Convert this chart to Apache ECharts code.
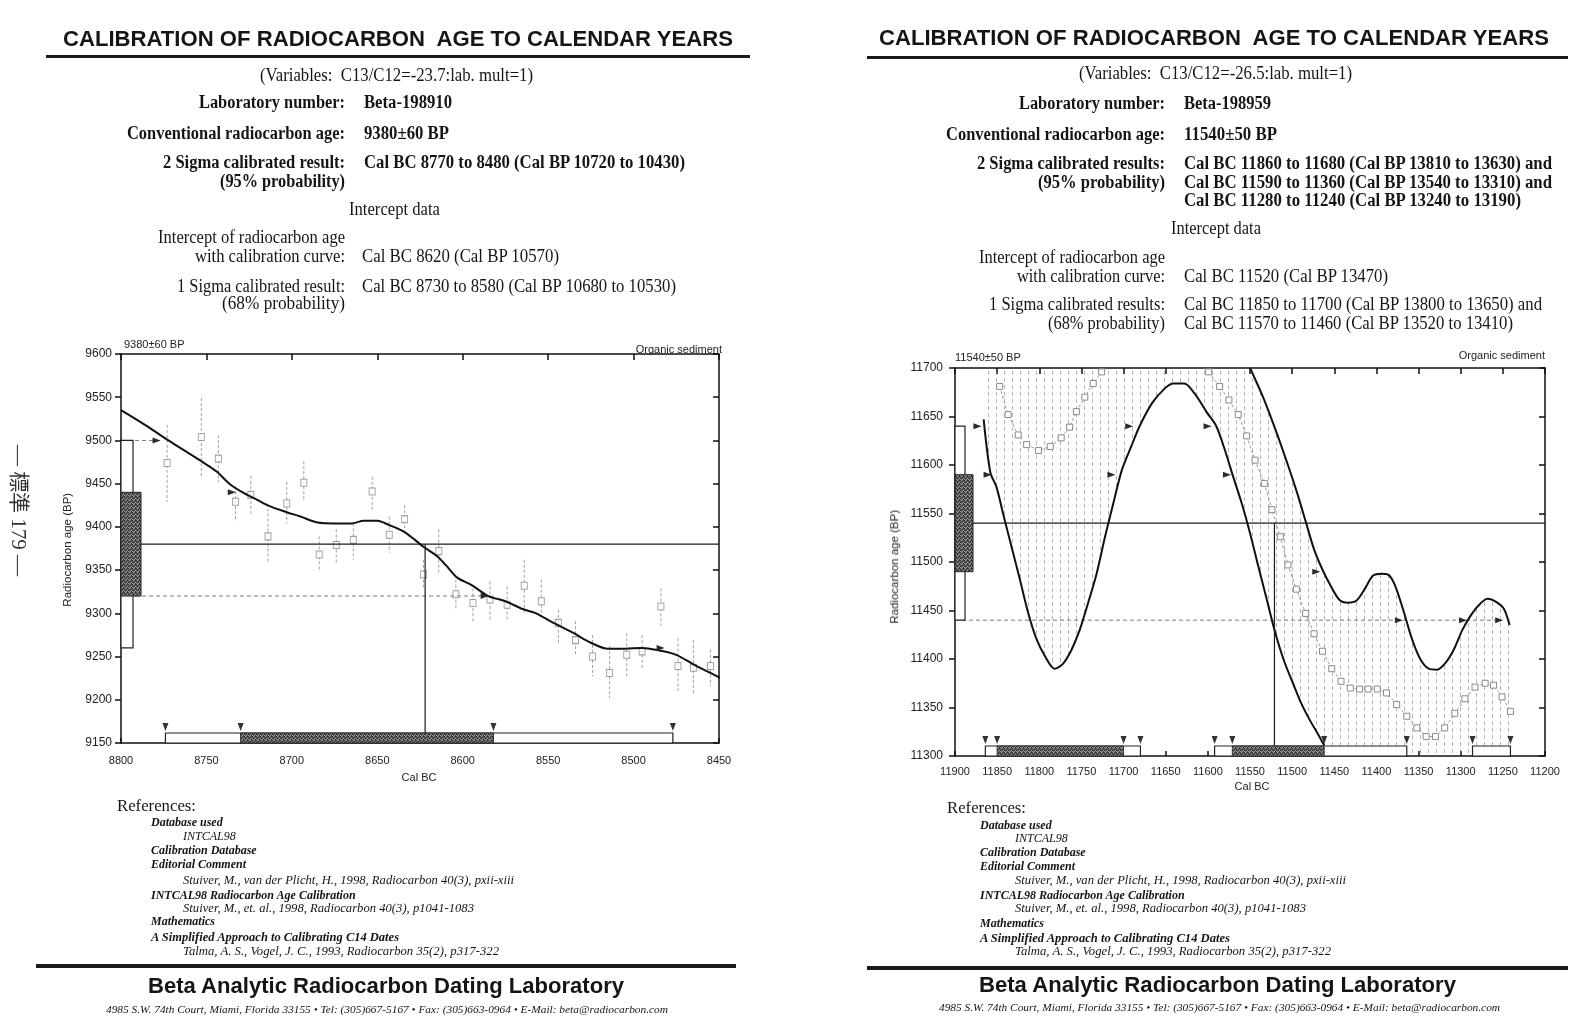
<!DOCTYPE html>
<html><head><meta charset="utf-8">
<script src="https://cdn.jsdelivr.net/npm/echarts@6.0.0/dist/echarts.min.js"></script>
<style>
html,body{margin:0;padding:0;background:#fff;}
body{width:1596px;height:1036px;position:relative;overflow:hidden;}
#chart{position:absolute;left:0;top:0;width:1596px;height:1036px;}
.tx{position:absolute;white-space:pre;color:#151515;transform-origin:0 50%;}
.title{font:bold 22px/1 'Liberation Sans',Arial,sans-serif;}
.bold{font:bold 18px/1 'Liberation Serif','Times New Roman',serif;}
.reg{font:18px/1 'Liberation Serif','Times New Roman',serif;}
.refh{font:17px/1 'Liberation Serif',serif;}
.refb{font:italic bold 12px/1 'Liberation Serif',serif;}
.refi{font:italic 12px/1 'Liberation Serif',serif;}
.foot{font:bold 22px/1 'Liberation Sans',Arial,sans-serif;}
.addr{font:italic 10px/1 'Liberation Serif',serif;}
.ax{font:11px/1 'Liberation Sans',Arial,sans-serif;color:#222;}
.axn{font:11.5px/1 'Liberation Sans',Arial,sans-serif;color:#222;}
.side{font:21px/1 'Liberation Serif','Noto Sans CJK JP',serif;color:#333;}
.rule{position:absolute;background:#1a1a1a;}
</style></head><body>
<div id="chart"></div>
<script>
// ================= DATA =================
// Left chart: Beta-198910
const leftAge = 9380, leftErr = 60;
const leftCurve = [[8800,9535],[8786,9518],[8773,9501],[8753,9476],[8744,9464],[8736,9449],[8728,9439],[8720,9431],[8713,9424],[8703,9417],[8695,9412],[8685,9405],[8675,9404],[8665,9404],[8658,9407],[8650,9407],[8643,9402],[8635,9395],[8628,9385],[8623,9377],[8615,9366],[8610,9356],[8603,9341],[8595,9333],[8585,9320],[8575,9314],[8565,9305],[8557,9300],[8548,9290],[8535,9277],[8525,9266],[8515,9259],[8505,9259],[8495,9260],[8485,9257],[8475,9252],[8465,9241],[8455,9231],[8449,9225]];
// [cal BC, BP, low, high]
const leftPoints = [[8773,9474,9429,9518],[8753,9504,9458,9549],[8743,9479,9452,9506],[8733,9429,9406,9447],[8724,9437,9414,9459],[8714,9389,9358,9427],[8703,9427,9404,9452],[8693,9451,9431,9476],[8684,9368,9348,9389],[8674,9379,9358,9397],[8664,9385,9362,9404],[8653,9441,9420,9458],[8643,9391,9370,9412],[8634,9409,9395,9425],[8623,9345,9330,9362],[8614,9372,9347,9397],[8604,9322,9304,9339],[8594,9312,9289,9329],[8584,9316,9293,9337],[8574,9310,9293,9331],[8564,9332,9300,9362],[8554,9314,9293,9339],[8544,9289,9264,9304],[8534,9269,9252,9291],[8524,9250,9227,9275],[8514,9231,9202,9262],[8504,9252,9227,9277],[8495,9256,9235,9275],[8484,9308,9285,9329],[8474,9239,9210,9271],[8465,9237,9206,9269],[8455,9239,9216,9258]];
const leftSigma2 = [[8774,8477]];
const leftSigma1 = [[8730,8582]];
const leftIntercept = 8622;
const leftArrows = [[8778,9500],[8734,9440],[8586,9320],[8483,9260]];
const leftDashed = [[9500,8778],[9320,8586]]; // [BP level, end cal BC]

// Right chart: Beta-198959
const rightAge = 11540, rightErr = 50;
const rightCurveLower = [[11866,11647],[11858,11592],[11851,11578],[11843,11550],[11833,11516],[11823,11482],[11813,11447],[11803,11420],[11792,11401],[11782,11390],[11772,11395],[11762,11409],[11752,11430],[11742,11458],[11732,11488],[11722,11526],[11712,11561],[11702,11595],[11691,11619],[11681,11640],[11666,11664],[11651,11679],[11641,11684],[11628,11684],[11616,11674],[11601,11654],[11590,11640],[11580,11616],[11570,11588],[11560,11561],[11550,11530],[11540,11495],[11530,11461],[11520,11427],[11510,11399],[11499,11375],[11489,11354],[11479,11337],[11469,11322],[11462,11311]];
const rightCurveUpper = [[11550,11700],[11535,11671],[11520,11637],[11505,11600],[11494,11571],[11484,11542],[11474,11513],[11464,11492],[11454,11475],[11444,11461],[11434,11458],[11424,11460],[11414,11472],[11404,11486],[11394,11488],[11386,11487],[11378,11476],[11368,11450],[11358,11421],[11348,11400],[11338,11390],[11328,11389],[11318,11396],[11308,11410],[11298,11430],[11288,11445],[11278,11456],[11268,11462],[11258,11459],[11249,11452],[11242,11435]];
const rightDataC = [[11847,11681],[11837,11652],[11825,11631],[11815,11621],[11801,11615],[11787,11619],[11774,11628],[11764,11639],[11756,11655],[11746,11670],[11736,11684],[11726,11696]];
const rightDataD = [[11599,11696],[11586,11681],[11575,11667],[11564,11652],[11554,11630],[11544,11605],[11533,11581],[11524,11554],[11514,11526],[11505,11497],[11495,11472],[11484,11447],[11474,11426],[11464,11408],[11453,11390],[11442,11377],[11431,11370],[11420,11369],[11410,11369],[11399,11369],[11388,11365],[11376,11353],[11364,11341],[11352,11329],[11341,11320],[11330,11320],[11319,11329],[11307,11344],[11295,11359],[11283,11371],[11271,11375],[11261,11373],[11251,11361],[11241,11346]];
const rightSigma2 = [[11864,11680],[11592,11364],[11286,11241]];
const rightSigma1 = [[11850,11700],[11571,11462]];
const rightIntercept = 11521;
const rightArrows = [[11871,11640],[11691,11640],[11598,11640],[11859,11590],[11712,11590],[11575,11590],[11469,11490],[11371,11440],[11295,11440],[11252,11440]];
const rightDashed = [[11440,11252]];

// axis ranges
const LX = [8450, 8800], LY = [9150, 9600];
const RX = [11200, 11900], RY = [11300, 11700];

// ================= PATTERNS =================
function hatchPattern() {
  const c = document.createElement('canvas'); c.width = 8; c.height = 7;
  const g = c.getContext('2d');
  g.fillStyle = 'rgba(120,120,120,0.55)';
  g.fillRect(4, 0, 1, 4);
  return c;
}
function stipplePattern() {
  const c = document.createElement('canvas'); c.width = 4; c.height = 4;
  const g = c.getContext('2d');
  g.fillStyle = '#626262'; g.fillRect(0, 0, 4, 4);
  g.fillStyle = '#303030';
  [[0,0],[2,1],[1,2],[3,3],[3,0],[0,2]].forEach(p => g.fillRect(p[0], p[1], 1, 1));
  g.fillStyle = '#9c9c9c';
  [[1,0],[3,2],[0,3],[2,3]].forEach(p => g.fillRect(p[0], p[1], 1, 1));
  return c;
}
const HATCH = {image: hatchPattern(), repeat: 'repeat'};
const STIP = {image: stipplePattern(), repeat: 'repeat'};

// ================= CHART =================
const chart = echarts.init(document.getElementById('chart'), null, {renderer: 'canvas'});
const AX = '#111';
function xAxis(grid, r, pos, show, margin) {
  return {type: 'value', gridIndex: grid, min: r[0], max: r[1], interval: 50, inverse: true, position: pos,
    axisLine: {show: true, onZero: false, lineStyle: {color: AX, width: 1.5}},
    axisTick: {show: true, inside: true, length: pos === 'top' ? 6 : 5, lineStyle: {color: AX, width: 1.5}},
    axisLabel: {show: show, formatter: v => String(v), color: '#222', fontSize: 11, fontFamily: 'Liberation Sans', margin: margin || 10},
    splitLine: {show: false}};
}
function yAxis(grid, r, pos, show, margin) {
  return {type: 'value', gridIndex: grid, min: r[0], max: r[1], interval: 50, position: pos,
    axisLine: {show: true, onZero: false, lineStyle: {color: AX, width: 1.5}},
    axisTick: {show: true, inside: pos === 'right', length: 6, lineStyle: {color: AX, width: 1.5}},
    axisLabel: {show: show, formatter: v => String(v), color: '#222', fontSize: 12, fontFamily: 'Liberation Sans', margin: margin || 9},
    splitLine: {show: false}};
}
function line(ai, data, style, z, smooth) {
  return {type: 'line', xAxisIndex: ai * 2, yAxisIndex: ai * 2, data: data, symbol: 'none', showSymbol: false,
    smooth: smooth || false, lineStyle: style, z: z, silent: true, animation: false};
}
function custom(ai, data, render, z, clip) {
  return {type: 'custom', xAxisIndex: ai * 2, yAxisIndex: ai * 2, data: data, renderItem: render, z: z, clip: !!clip, silent: true, animation: false};
}
function errRender(params, api) {
  const x = api.value(0), lo = api.value(2), hi = api.value(3);
  const a = api.coord([x, hi]), b = api.coord([x, lo]);
  return {type: 'line', shape: {x1: a[0], y1: a[1], x2: b[0], y2: b[1]}, style: {stroke: '#a0a0a0', lineWidth: 1, lineDash: [3, 2]}};
}
function ageBoxRender(xEdge, widths) {
  return function (params, api) {
    const lo = api.value(0), hi = api.value(1), kind = api.value(2);
    const cs = params.coordSys;
    const yT = api.coord([xEdge, hi])[1], yB = api.coord([xEdge, lo])[1];
    return {type: 'rect', shape: {x: cs.x, y: yT, width: widths[kind], height: yB - yT},
      style: kind ? {fill: STIP, stroke: '#222', lineWidth: 1} : {fill: '#fff', stroke: '#222', lineWidth: 1.2}};
  };
}
function barRender(yMin, h) {
  return function (params, api) {
    const x1 = api.value(0), x2 = api.value(1), kind = api.value(2);
    const cs = params.coordSys;
    const a = api.coord([x1, yMin])[0], b = api.coord([x2, yMin])[0];
    const yb = cs.y + cs.height;
    return {type: 'rect', shape: {x: Math.min(a, b), y: yb - h, width: Math.abs(b - a), height: h},
      style: kind ? {fill: STIP, stroke: '#333', lineWidth: 1} : {fill: '#fff', stroke: '#222', lineWidth: 1.2}};
  };
}
function downTriRender(yMin, h, gap) {
  return function (params, api) {
    const cs = params.coordSys;
    const px = api.coord([api.value(0), yMin])[0];
    const yt = cs.y + cs.height - h - gap;
    return {type: 'polygon', shape: {points: [[px - 3, yt - 8], [px + 3, yt - 8], [px, yt]]}, style: {fill: '#333'}};
  };
}
function arrowRender(params, api) {
  const p = api.coord([api.value(0), api.value(1)]);
  return {type: 'polygon', shape: {points: [[p[0] - 6, p[1] - 3], [p[0] + 2, p[1]], [p[0] - 6, p[1] + 3]]}, style: {fill: '#2a2a2a'}};
}
function hatchRender(params, api) {
  const pts = [];
  pts.push(api.coord([rightCurveLower[0][0], RY[1]]));
  pts.push(api.coord([rightCurveUpper[0][0], RY[1]]));
  rightCurveUpper.forEach(p => pts.push(api.coord(p)));
  const u = rightCurveUpper[rightCurveUpper.length - 1];
  pts.push(api.coord([u[0], RY[0]]));
  const l = rightCurveLower[rightCurveLower.length - 1];
  pts.push(api.coord([l[0], RY[0]]));
  for (let i = rightCurveLower.length - 1; i >= 0; i--) pts.push(api.coord(rightCurveLower[i]));
  return {type: 'polygon', shape: {points: pts}, style: {fill: HATCH}};
}
function bars(s2, s1) {
  return s2.map(r => [r[0], r[1], 0]).concat(s1.map(r => [r[0], r[1], 1]));
}
function ends(s2, s1) {
  const out = [];
  s2.concat(s1).forEach(r => { out.push([r[0]]); out.push([r[1]]); });
  return out;
}
const solid = {color: '#1a1a1a', width: 1.2};
const dashed = {color: '#7a7a7a', width: 1, type: [4, 3]};
const curveStyle = {color: '#111', width: 2};

const series = [
  // ---- left ----
  custom(0, leftPoints, errRender, 2),
  {type: 'scatter', xAxisIndex: 0, yAxisIndex: 0, data: leftPoints.map(p => [p[0], p[1]]), symbol: 'rect', symbolSize: [6, 7],
    itemStyle: {color: '#fff', borderColor: '#8a8a8a', borderWidth: 1}, z: 3, silent: true, animation: false},
  line(0, [[LX[1], leftAge], [LX[0], leftAge]], solid, 4),
  ...leftDashed.map(d => line(0, [[LX[1], d[0]], [d[1], d[0]]], dashed, 4)),
  line(0, leftCurve, curveStyle, 5, 0.3),
  line(0, [[leftIntercept, leftAge], [leftIntercept, LY[0]]], solid, 5),
  custom(0, [[leftAge - 2 * leftErr, leftAge + 2 * leftErr, 0], [leftAge - leftErr, leftAge + leftErr, 1]], ageBoxRender(LX[1], [12, 20]), 6),
  custom(0, bars(leftSigma2, leftSigma1), barRender(LY[0], 10), 6),
  custom(0, ends(leftSigma2, leftSigma1), downTriRender(LY[0], 10, 2), 7),
  custom(0, leftArrows, arrowRender, 7),
  // ---- right ----
  custom(1, [[0]], hatchRender, 1, true),
  {type: 'line', xAxisIndex: 2, yAxisIndex: 2, data: rightDataC, symbol: 'rect', symbolSize: 6, showSymbol: true,
    lineStyle: {color: '#9a9a9a', width: 1, type: [3, 2]}, itemStyle: {color: '#fff', borderColor: '#8a8a8a', borderWidth: 1}, z: 2, silent: true, animation: false},
  {type: 'line', xAxisIndex: 2, yAxisIndex: 2, data: rightDataD, symbol: 'rect', symbolSize: 6, showSymbol: true,
    lineStyle: {color: '#9a9a9a', width: 1, type: [3, 2]}, itemStyle: {color: '#fff', borderColor: '#8a8a8a', borderWidth: 1}, z: 2, silent: true, animation: false},
  line(1, [[RX[1], rightAge], [RX[0], rightAge]], solid, 4),
  ...rightDashed.map(d => line(1, [[RX[1], d[0]], [d[1], d[0]]], dashed, 4)),
  line(1, rightCurveLower, curveStyle, 5, 0.3),
  line(1, rightCurveUpper, curveStyle, 5, 0.3),
  line(1, [[rightIntercept, rightAge], [rightIntercept, RY[0]]], solid, 5),
  custom(1, [[rightAge - 2 * rightErr, rightAge + 2 * rightErr, 0], [rightAge - rightErr, rightAge + rightErr, 1]], ageBoxRender(RX[1], [10, 18]), 6),
  custom(1, bars(rightSigma2, rightSigma1), barRender(RY[0], 10), 6),
  custom(1, ends(rightSigma2, rightSigma1), downTriRender(RY[0], 10, 2), 7),
  custom(1, rightArrows, arrowRender, 7)
];

chart.setOption({
  animation: false,
  grid: [
    {left: 121, top: 354, width: 598, height: 389},
    {left: 955, top: 368, width: 590, height: 388}
  ],
  xAxis: [xAxis(0, LX, 'bottom', true, 12), xAxis(0, LX, 'top', false), xAxis(1, RX, 'bottom', true, 10), xAxis(1, RX, 'top', false)],
  yAxis: [yAxis(0, LY, 'left', true, 9), yAxis(0, LY, 'right', false), yAxis(1, RY, 'left', true, 12), yAxis(1, RY, 'right', false)],
  series: series
});

// ================= TEXT =================
const texts = [
  // left header block
  ['CALIBRATION OF RADIOCARBON  AGE TO CALENDAR YEARS', 398, 39, 'c', 'title', 670],
  ['(Variables:  C13/C12=-23.7:lab. mult=1)', 396, 75, 'c', 'reg', 273],
  ['Laboratory number:', 345, 102, 'r', 'bold', 146],
  ['Beta-198910', 364, 102, 'l', 'bold', 88],
  ['Conventional radiocarbon age:', 345, 133, 'r', 'bold', 218],
  ['9380±60 BP', 364, 133, 'l', 'bold', 85],
  ['2 Sigma calibrated result:', 345, 162, 'r', 'bold', 182],
  ['(95% probability)', 345, 181, 'r', 'bold', 125],
  ['Cal BC 8770 to 8480 (Cal BP 10720 to 10430)', 364, 162, 'l', 'bold', 321],
  ['Intercept data', 394, 209, 'c', 'reg', 91],
  ['Intercept of radiocarbon age', 345, 237, 'r', 'reg', 187],
  ['with calibration curve:', 345, 256, 'r', 'reg', 150],
  ['Cal BC 8620 (Cal BP 10570)', 362, 256, 'l', 'reg', 197],
  ['1 Sigma calibrated result:', 345, 286, 'r', 'reg', 168],
  ['Cal BC 8730 to 8580 (Cal BP 10680 to 10530)', 362, 286, 'l', 'reg', 314],
  ['(68% probability)', 345, 303, 'r', 'reg', 123],
  // right header block
  ['CALIBRATION OF RADIOCARBON  AGE TO CALENDAR YEARS', 1214, 38, 'c', 'title', 670],
  ['(Variables:  C13/C12=-26.5:lab. mult=1)', 1215, 73, 'c', 'reg', 273],
  ['Laboratory number:', 1165, 103, 'r', 'bold', 146],
  ['Beta-198959', 1184, 103, 'l', 'bold', 87],
  ['Conventional radiocarbon age:', 1165, 134, 'r', 'bold', 219],
  ['11540±50 BP', 1184, 134, 'l', 'bold', 93],
  ['2 Sigma calibrated results:', 1165, 163, 'r', 'bold', 188],
  ['(95% probability)', 1165, 182, 'r', 'bold', 127],
  ['Cal BC 11860 to 11680 (Cal BP 13810 to 13630) and', 1184, 163, 'l', 'bold', 368],
  ['Cal BC 11590 to 11360 (Cal BP 13540 to 13310) and', 1184, 182, 'l', 'bold', 368],
  ['Cal BC 11280 to 11240 (Cal BP 13240 to 13190)', 1184, 200, 'l', 'bold', 337],
  ['Intercept data', 1216, 228, 'c', 'reg', 90],
  ['Intercept of radiocarbon age', 1165, 257, 'r', 'reg', 186],
  ['with calibration curve:', 1165, 276, 'r', 'reg', 148],
  ['Cal BC 11520 (Cal BP 13470)', 1184, 276, 'l', 'reg', 204],
  ['1 Sigma calibrated results:', 1165, 304, 'r', 'reg', 176],
  ['(68% probability)', 1165, 323, 'r', 'reg', 117],
  ['Cal BC 11850 to 11700 (Cal BP 13800 to 13650) and', 1184, 304, 'l', 'reg', 358],
  ['Cal BC 11570 to 11460 (Cal BP 13520 to 13410)', 1184, 323, 'l', 'reg', 329],
  // chart captions
  ['9380±60 BP', 124, 344, 'l', 'ax'],
  ['Organic sediment', 722, 349, 'r', 'ax'],
  ['11540±50 BP', 955, 357, 'l', 'ax'],
  ['Organic sediment', 1545, 355, 'r', 'ax'],
  ['Cal BC', 419, 777, 'c', 'ax'],
  ['Cal BC', 1252, 786, 'c', 'ax'],
  ['Radiocarbon age (BP)', 68, 550, 'c', 'axn', 0, -90],
  ['Radiocarbon age (BP)', 895, 567, 'c', 'axn', 0, -90],
  // left references
  ['References:', 117, 805, 'l', 'refh', 79],
  ['Database used', 151, 822, 'l', 'refb'],
  ['INTCAL98', 183, 836, 'l', 'refi'],
  ['Calibration Database', 151, 850, 'l', 'refb'],
  ['Editorial Comment', 151, 864, 'l', 'refb'],
  ['Stuiver, M., van der Plicht, H., 1998, Radiocarbon 40(3), pxii-xiii', 183, 880, 'l', 'refi', 331],
  ['INTCAL98 Radiocarbon Age Calibration', 151, 895, 'l', 'refb'],
  ['Stuiver, M., et. al., 1998, Radiocarbon 40(3), p1041-1083', 183, 908, 'l', 'refi', 291],
  ['Mathematics', 151, 921, 'l', 'refb'],
  ['A Simplified Approach to Calibrating C14 Dates', 151, 937, 'l', 'refb', 248],
  ['Talma, A. S., Vogel, J. C., 1993, Radiocarbon 35(2), p317-322', 183, 951, 'l', 'refi', 316],
  // right references
  ['References:', 947, 807, 'l', 'refh', 79],
  ['Database used', 980, 825, 'l', 'refb'],
  ['INTCAL98', 1015, 838, 'l', 'refi'],
  ['Calibration Database', 980, 852, 'l', 'refb'],
  ['Editorial Comment', 980, 866, 'l', 'refb'],
  ['Stuiver, M., van der Plicht, H., 1998, Radiocarbon 40(3), pxii-xiii', 1015, 880, 'l', 'refi', 331],
  ['INTCAL98 Radiocarbon Age Calibration', 980, 895, 'l', 'refb'],
  ['Stuiver, M., et. al., 1998, Radiocarbon 40(3), p1041-1083', 1015, 908, 'l', 'refi', 291],
  ['Mathematics', 980, 923, 'l', 'refb'],
  ['A Simplified Approach to Calibrating C14 Dates', 980, 938, 'l', 'refb', 250],
  ['Talma, A. S., Vogel, J. C., 1993, Radiocarbon 35(2), p317-322', 1015, 951, 'l', 'refi', 316],
  // footers
  ['Beta Analytic Radiocarbon Dating Laboratory', 386, 986, 'c', 'foot', 476],
  ['4985 S.W. 74th Court, Miami, Florida 33155 • Tel: (305)667-5167 • Fax: (305)663-0964 • E-Mail: beta@radiocarbon.com', 387, 1010, 'c', 'addr', 562],
  ['Beta Analytic Radiocarbon Dating Laboratory', 1217, 985, 'c', 'foot', 477],
  ['4985 S.W. 74th Court, Miami, Florida 33155 • Tel: (305)667-5167 • Fax: (305)663-0964 • E-Mail: beta@radiocarbon.com', 1219, 1008, 'c', 'addr', 561],
  // page margin mark
  ['— 標準 179 —', 19, 510, 'c', 'side', 0, 90]
];
function place(item) {
  const t = item[0], x = item[1], y = item[2], a = item[3], cls = item[4], w = item[5], rot = item[6];
  const d = document.createElement('div');
  d.className = 'tx ' + cls;
  d.textContent = t;
  document.body.appendChild(d);
  const nw = d.getBoundingClientRect().width, nh = d.getBoundingClientRect().height;
  if (rot) {
    d.style.left = (x - nw / 2) + 'px';
    d.style.top = (y - nh / 2) + 'px';
    d.style.transformOrigin = '50% 50%';
    d.style.transform = 'rotate(' + rot + 'deg)';
    return;
  }
  const s = w ? w / nw : 1;
  const fw = nw * s;
  const left = a === 'l' ? x : (a === 'r' ? x - fw : x - fw / 2);
  d.style.left = left + 'px';
  d.style.top = (y - nh / 2) + 'px';
  if (s !== 1) d.style.transform = 'scaleX(' + s + ')';
}
texts.forEach(place);
// horizontal rules
[[46, 55, 704, 3], [867, 56, 701, 3], [36, 964, 700, 4], [867, 966, 701, 4]].forEach(r => {
  const d = document.createElement('div');
  d.className = 'rule';
  d.style.left = r[0] + 'px'; d.style.top = r[1] + 'px'; d.style.width = r[2] + 'px'; d.style.height = r[3] + 'px';
  document.body.appendChild(d);
});
</script>
</body></html>
